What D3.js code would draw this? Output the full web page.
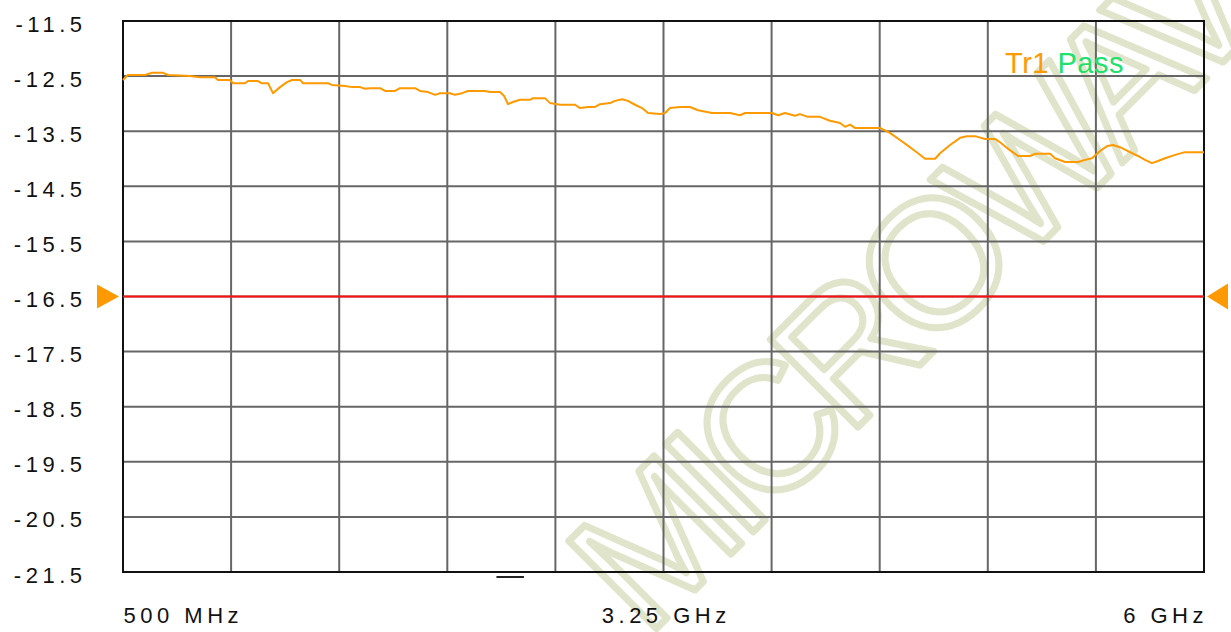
<!DOCTYPE html>
<html>
<head>
<meta charset="utf-8">
<script src="https://cdn.jsdelivr.net/npm/d3@7/dist/d3.min.js"></script>
<style>
  html, body { margin: 0; padding: 0; background: #ffffff; }
  svg { display: block; }
</style>
</head>
<body>
<svg id="chart" width="1231" height="632"></svg>
<script>
// ---------------- data ----------------
const freqGHz = [0.5, 0.525, 0.612, 0.648, 0.704, 0.729, 0.841, 0.892, 0.968, 0.983, 1.044, 1.060, 1.121, 1.136, 1.187, 1.207, 1.238, 1.263, 1.299, 1.334, 1.360, 1.401, 1.416, 1.543, 1.563, 1.630, 1.665, 1.706, 1.731, 1.757, 1.808, 1.833, 1.884, 1.909, 1.986, 2.011, 2.052, 2.088, 2.113, 2.164, 2.189, 2.225, 2.255, 2.342, 2.367, 2.418, 2.439, 2.459, 2.484, 2.520, 2.571, 2.586, 2.647, 2.673, 2.723, 2.800, 2.825, 2.866, 2.902, 2.927, 2.978, 3.003, 3.039, 3.069, 3.105, 3.141, 3.171, 3.232, 3.258, 3.283, 3.334, 3.385, 3.426, 3.497, 3.588, 3.639, 3.665, 3.802, 3.833, 3.868, 3.919, 3.944, 3.985, 4.046, 4.097, 4.148, 4.174, 4.199, 4.224, 4.351, 4.402, 4.453, 4.504, 4.545, 4.581, 4.632, 4.657, 4.708, 4.759, 4.794, 4.835, 4.886, 4.937, 4.962, 5.003, 5.054, 5.115, 5.140, 5.217, 5.242, 5.293, 5.359, 5.395, 5.430, 5.471, 5.507, 5.537, 5.573, 5.613, 5.664, 5.700, 5.735, 5.766, 5.802, 5.853, 5.903, 6.0];
const traceDB = [-12.57, -12.48, -12.48, -12.44, -12.44, -12.48, -12.50, -12.52, -12.52, -12.57, -12.57, -12.63, -12.63, -12.59, -12.59, -12.63, -12.63, -12.81, -12.70, -12.61, -12.57, -12.57, -12.63, -12.63, -12.66, -12.68, -12.70, -12.70, -12.73, -12.72, -12.72, -12.77, -12.77, -12.72, -12.72, -12.77, -12.79, -12.84, -12.81, -12.81, -12.84, -12.81, -12.77, -12.77, -12.79, -12.79, -12.86, -13.01, -12.97, -12.93, -12.93, -12.90, -12.90, -12.99, -13.02, -13.02, -13.08, -13.06, -13.06, -13.01, -12.99, -12.95, -12.92, -12.95, -13.02, -13.08, -13.17, -13.19, -13.17, -13.08, -13.06, -13.06, -13.12, -13.17, -13.17, -13.21, -13.17, -13.17, -13.21, -13.17, -13.22, -13.19, -13.24, -13.24, -13.31, -13.35, -13.42, -13.38, -13.44, -13.44, -13.53, -13.66, -13.79, -13.90, -14.00, -14.00, -13.90, -13.75, -13.62, -13.59, -13.59, -13.64, -13.64, -13.70, -13.82, -13.95, -13.95, -13.91, -13.91, -13.99, -14.06, -14.06, -14.02, -13.99, -13.86, -13.77, -13.75, -13.79, -13.86, -13.95, -14.02, -14.08, -14.04, -13.99, -13.93, -13.88, -13.88];
const yTickValues = [-11.5, -12.5, -13.5, -14.5, -15.5, -16.5, -17.5, -18.5, -19.5, -20.5, -21.5];
const xGridValues = [0.5, 1.05, 1.6, 2.15, 2.7, 3.25, 3.8, 4.35, 4.9, 5.45, 6.0];
const xTickValues = [0.5, 3.25, 6.0];
const xTickLabels = ["500 MHz", "3.25 GHz", "6 GHz"];
const limitDB = -16.5;
const legendParts = ["Tr1", "Pass"];
const watermarkText = "MICROWAVE";

// ---------------- layout ----------------
const pLeft = 123, pRight = 1204, pTop = 21, pBottom = 572;
const svg = d3.select("#chart");
const x = d3.scaleLinear().domain([0.5, 6]).range([pLeft, pRight]);
const y = d3.scaleLinear().domain([-21.5, -11.5]).range([pBottom, pTop]);

svg.append("rect").attr("width", 1231).attr("height", 632).attr("fill", "#ffffff");

// watermark
svg.append("text")
  .attr("transform", "translate(646,639) rotate(-45)")
  .attr("font-family", "Liberation Sans, Arial, sans-serif")
  .attr("font-size", 180)
  .attr("letter-spacing", -15)
  .attr("fill", "none")
  .attr("stroke", "#dfe4cb")
  .attr("stroke-width", 7)
  .attr("stroke-linejoin", "round")
  .text(watermarkText);

// grid
const grid = svg.append("g");
grid.selectAll("line.v").data(xGridValues.slice(1, -1)).join("line")
  .attr("class", "v")
  .attr("x1", d => x(d)).attr("x2", d => x(d))
  .attr("y1", pTop).attr("y2", pBottom)
  .attr("stroke", "#666").attr("stroke-width", 2);
grid.selectAll("line.h").data(yTickValues.slice(1, -1)).join("line")
  .attr("class", "h")
  .attr("x1", pLeft).attr("x2", pRight)
  .attr("y1", d => y(d)).attr("y2", d => y(d))
  .attr("stroke", "#666").attr("stroke-width", 2);

// frame
svg.append("rect")
  .attr("x", pLeft).attr("y", pTop)
  .attr("width", pRight - pLeft).attr("height", pBottom - pTop)
  .attr("fill", "none").attr("stroke", "#111").attr("stroke-width", 2);

// small reference tick under axis
svg.append("line")
  .attr("x1", x(2.4)).attr("x2", x(2.54))
  .attr("y1", pBottom + 5).attr("y2", pBottom + 5)
  .attr("stroke", "#222").attr("stroke-width", 2);

// limit line
svg.append("line")
  .attr("x1", pLeft).attr("x2", pRight)
  .attr("y1", y(limitDB)).attr("y2", y(limitDB))
  .attr("stroke", "#ff1010").attr("stroke-width", 2);

// reference markers (triangles)
const ly = y(limitDB);
svg.append("path")
  .attr("d", `M${pLeft - 26},${ly - 12} L${pLeft - 4},${ly} L${pLeft - 26},${ly + 12} Z`)
  .attr("fill", "#ff9900");
svg.append("path")
  .attr("d", `M${pRight + 24},${ly - 13} L${pRight + 3},${ly} L${pRight + 24},${ly + 13} Z`)
  .attr("fill", "#ff9900");

// trace
const line = d3.line().x(d => x(d[0])).y(d => y(d[1]));
svg.append("path")
  .datum(freqGHz.map((f, i) => [f, traceDB[i]]))
  .attr("d", line)
  .attr("fill", "none")
  .attr("stroke", "#ff9900")
  .attr("stroke-width", 2)
  .attr("stroke-linejoin", "round");

// y axis labels
const ls = 4.5;
const yAxis = d3.axisLeft(y).tickValues(yTickValues).tickSize(0).tickPadding(0)
  .tickFormat(d => d.toFixed(1));
const yg = svg.append("g").attr("transform", `translate(${82 + ls},0)`).call(yAxis);
yg.select(".domain").remove();
yg.selectAll("text")
  .attr("x", 0)
  .attr("dy", null)
  .attr("y", 10)
  .attr("font-family", "Liberation Sans, Arial, sans-serif")
  .attr("font-size", 22)
  .attr("letter-spacing", ls)
  .attr("fill", "#111");

// x axis labels
const xAxis = d3.axisBottom(x).tickValues(xTickValues).tickSize(0).tickPadding(0)
  .tickFormat((d, i) => xTickLabels[i]);
const xg = svg.append("g").attr("transform", `translate(0,${623})`).call(xAxis);
xg.select(".domain").remove();
xg.selectAll("text")
  .attr("y", 0).attr("dy", null)
  .attr("font-family", "Liberation Sans, Arial, sans-serif")
  .attr("font-size", 22)
  .attr("letter-spacing", ls)
  .attr("fill", "#111")
  .attr("text-anchor", (d, i) => i === 0 ? "start" : (i === xTickValues.length - 1 ? "end" : "middle"))
  .attr("x", (d, i) => i === 0 ? 0 : (i === xTickValues.length - 1 ? ls - 1 : ls / 2));

// legend
const leg = svg.append("text")
  .attr("x", 1005).attr("y", 73)
  .attr("font-family", "Liberation Sans, Arial, sans-serif")
  .attr("font-size", 29)
  .attr("letter-spacing", 0.5);
leg.append("tspan").attr("fill", "#ff9900").text(legendParts[0] + " ");
leg.append("tspan").attr("fill", "#22e06c").text(legendParts[1]);
</script>
</body>
</html>
